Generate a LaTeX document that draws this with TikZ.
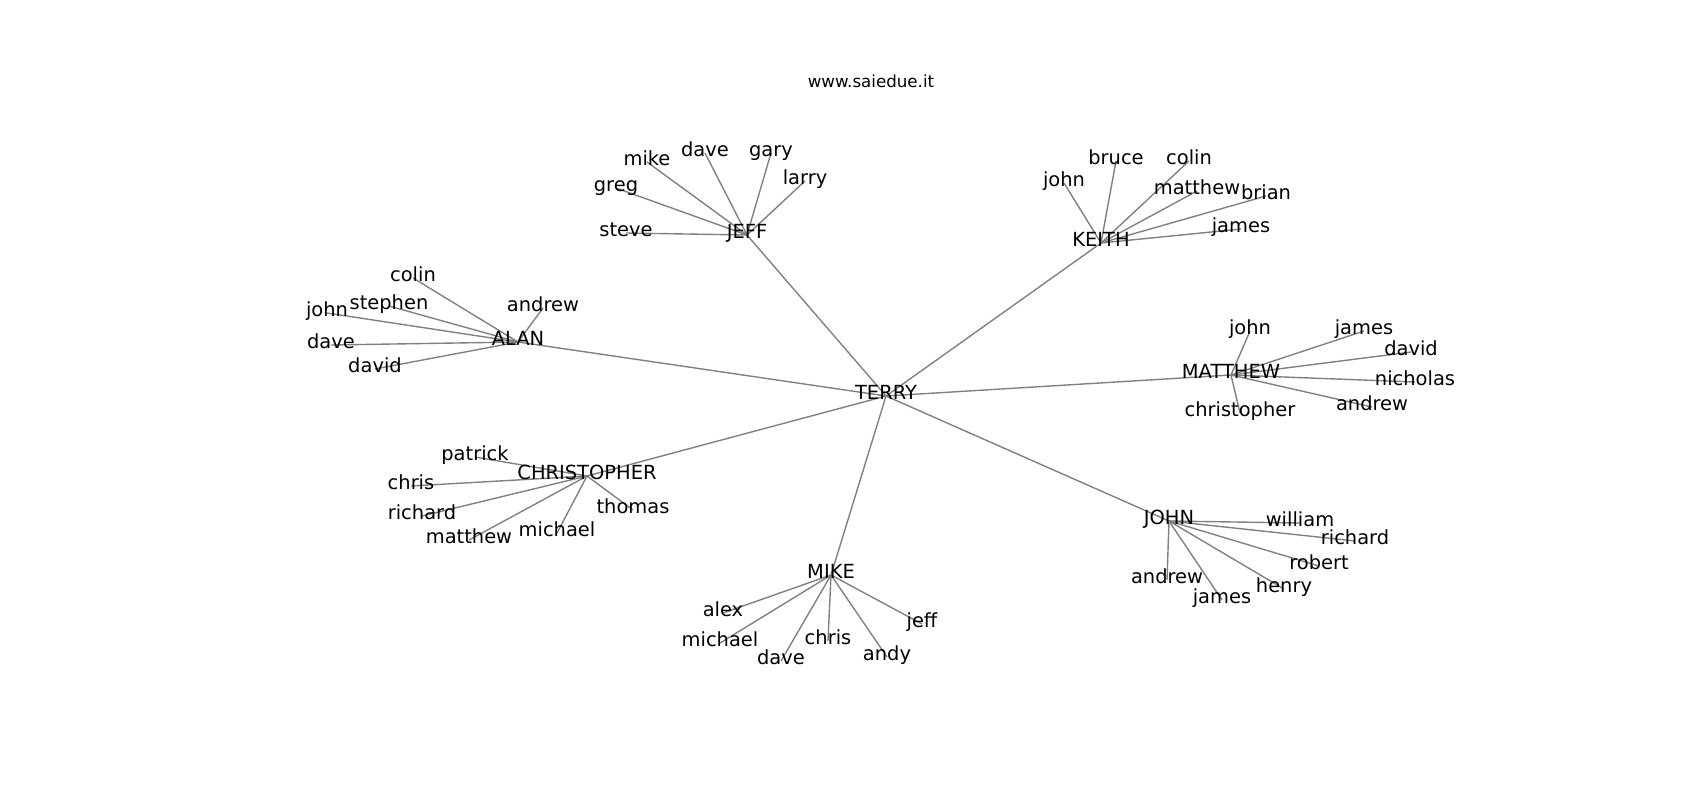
\documentclass[tikz,border=0pt]{standalone}
\usepackage{fontspec}
\setmainfont{DejaVu Sans}
\usetikzlibrary{backgrounds}

\begin{document}
\begin{tikzpicture}[x=0.72pt,y=-0.72pt,
    person/.style={inner sep=0pt,text height=0.76em,text depth=0.236em,font=\fontsize{14}{16}\selectfont},
    heading/.style={inner sep=0pt,text height=0.76em,text depth=0.236em,font=\fontsize{12}{14}\selectfont},
    link/.style={draw=gray,line width=1pt}]

        \useasboundingbox (0,0) rectangle (1700,800);

        % Title
        \node[heading] (title) at (871,84) {www.saiedue.it};

        % Centre and hubs
        \node[person] (terry) at (886,396) {TERRY};
        \node[person] (jeff) at (747,235) {JEFF};
        \node[person] (keith) at (1101,243) {KEITH};
        \node[person] (matthew) at (1231,375) {MATTHEW};
        \node[person] (john) at (1169,521) {JOHN};
        \node[person] (mike) at (831,575) {MIKE};
        \node[person] (christopher) at (587,476) {CHRISTOPHER};
        \node[person] (alan) at (518,342) {ALAN};

        % Friends of JEFF
        \node[person] (jeff-steve) at (626,233) {steve};
        \node[person] (jeff-greg) at (616,188) {greg};
        \node[person] (jeff-mike) at (647,162) {mike};
        \node[person] (jeff-dave) at (705,153) {dave};
        \node[person] (jeff-gary) at (771,153) {gary};
        \node[person] (jeff-larry) at (805,181) {larry};

        % Friends of KEITH
        \node[person] (keith-john) at (1064,183) {john};
        \node[person] (keith-bruce) at (1116,161) {bruce};
        \node[person] (keith-colin) at (1189,161) {colin};
        \node[person] (keith-matthew) at (1197,191) {matthew};
        \node[person] (keith-brian) at (1266,196) {brian};
        \node[person] (keith-james) at (1241,229) {james};

        % Friends of MATTHEW
        \node[person] (matthew-john) at (1250,331) {john};
        \node[person] (matthew-james) at (1364,331) {james};
        \node[person] (matthew-david) at (1411,352) {david};
        \node[person] (matthew-nicholas) at (1415,382) {nicholas};
        \node[person] (matthew-andrew) at (1372,407) {andrew};
        \node[person] (matthew-christopher) at (1240,413) {christopher};

        % Friends of JOHN
        \node[person] (john-william) at (1300,523) {william};
        \node[person] (john-richard) at (1355,541) {richard};
        \node[person] (john-robert) at (1319,566) {robert};
        \node[person] (john-henry) at (1284,589) {henry};
        \node[person] (john-james) at (1222,600) {james};
        \node[person] (john-andrew) at (1167,580) {andrew};

        % Friends of MIKE
        \node[person] (mike-alex) at (723,613) {alex};
        \node[person] (mike-michael) at (720,643) {michael};
        \node[person] (mike-dave) at (781,661) {dave};
        \node[person] (mike-chris) at (828,641) {chris};
        \node[person] (mike-andy) at (887,657) {andy};
        \node[person] (mike-jeff) at (922,624) {jeff};

        % Friends of CHRISTOPHER
        \node[person] (christopher-patrick) at (475,457) {patrick};
        \node[person] (christopher-chris) at (411,486) {chris};
        \node[person] (christopher-richard) at (422,516) {richard};
        \node[person] (christopher-matthew) at (469,540) {matthew};
        \node[person] (christopher-michael) at (557,533) {michael};
        \node[person] (christopher-thomas) at (633,510) {thomas};

        % Friends of ALAN
        \node[person] (alan-colin) at (413,278) {colin};
        \node[person] (alan-stephen) at (389,306) {stephen};
        \node[person] (alan-john) at (327,313) {john};
        \node[person] (alan-dave) at (331,345) {dave};
        \node[person] (alan-david) at (375,369) {david};
        \node[person] (alan-andrew) at (543,308) {andrew};

        % Edges, behind the names
        \begin{scope}[on background layer]
            \foreach \hub in {jeff,keith,matthew,john,mike,christopher,alan}
                \draw[link] (terry.center) -- (\hub.center);
            \foreach \friend in {steve,greg,mike,dave,gary,larry}
                \draw[link] (jeff.center) -- (jeff-\friend.center);
            \foreach \friend in {john,bruce,colin,matthew,brian,james}
                \draw[link] (keith.center) -- (keith-\friend.center);
            \foreach \friend in {john,james,david,nicholas,andrew,christopher}
                \draw[link] (matthew.center) -- (matthew-\friend.center);
            \foreach \friend in {william,richard,robert,henry,james,andrew}
                \draw[link] (john.center) -- (john-\friend.center);
            \foreach \friend in {alex,michael,dave,chris,andy,jeff}
                \draw[link] (mike.center) -- (mike-\friend.center);
            \foreach \friend in {patrick,chris,richard,matthew,michael,thomas}
                \draw[link] (christopher.center) -- (christopher-\friend.center);
            \foreach \friend in {colin,stephen,john,dave,david,andrew}
                \draw[link] (alan.center) -- (alan-\friend.center);
        \end{scope}

    \end{tikzpicture}
\end{document}
